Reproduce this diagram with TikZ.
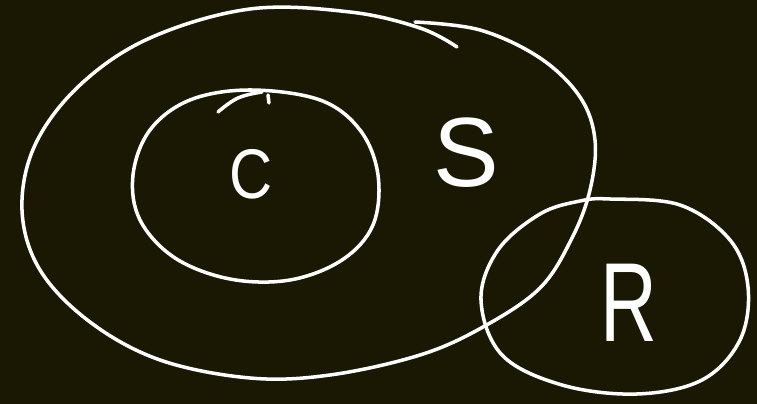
\documentclass[tikz,border=0pt]{standalone}
\usepackage{fontspec}
\setmainfont{Liberation Sans}
\usepackage{xcolor}
\definecolor{board}{HTML}{1A1802}
\usetikzlibrary{calc}

\begin{document}
\begin{tikzpicture}[x=0.02cm, y=-0.02cm,
    stroke/.style={draw=white, line width=2pt, line cap=round, line join=round},
    letter/.style={text=white, inner sep=0pt, font=#1},
    letter/.default=\Huge
]
% Background board
\fill[board] (0,0) rectangle (757,404);
\useasboundingbox (0,0) rectangle (757,404);

% Outer set S
\draw[stroke] plot[smooth, tension=0.6] coordinates {(415,22) (480,30) (540,58) (580,97) (595,140) (590,190) (572,238) (540,288) (483,327) (420,355) (330,375) (250,378) (160,360) (90,322) (40,270) (22,210) (35,145) (80,85) (150,38) (250,9) (350,12) (420,28) (457,47)};

% Inner set C
\draw[stroke] plot[smooth cycle, tension=0.6] coordinates {(250,90) (320,100) (360,130) (378,175) (373,225) (342,260) (290,280) (230,279) (175,258) (140,220) (133,175) (150,130) (190,100)};
\draw[stroke] plot[smooth, tension=0.7] coordinates {(218,112) (238,98) (262,92)};
\draw[stroke] (268,95) -- (269,103);

% Set R
\draw[stroke] plot[smooth cycle, tension=0.6] coordinates {(610,199) (680,205) (730,240) (748,287) (740,340) (702,380) (637,394) (562,385) (502,355) (481,300) (498,250) (540,214) (580,201)};

% Labels
\node[letter=\fontsize{40}{40}\selectfont] (labelC) at (251,174) {\scalebox{0.85}[1]{C}};
\node[letter=\fontsize{56}{56}\selectfont] (labelS) at (466,153) {S};
\node[letter=\fontsize{64}{64}\selectfont] (labelR) at (629,303) {\scalebox{0.7}[1]{R}};
\end{tikzpicture}
\end{document}
